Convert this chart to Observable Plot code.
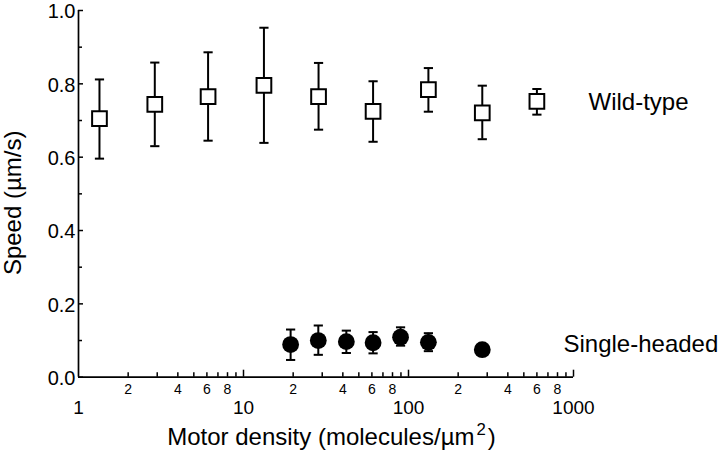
<!DOCTYPE html>
<html>
<head>
<meta charset="utf-8">
<script src="https://cdn.jsdelivr.net/npm/d3@7"></script>
<script src="https://cdn.jsdelivr.net/npm/@observablehq/plot@0.6"></script>
<style>
  html, body { margin: 0; padding: 0; background: #fff; }
  #wrap { position: relative; width: 720px; height: 455px; font-family: "Liberation Sans", Arial, Helvetica, sans-serif; }
  #xtitle { position: absolute; left: 331.5px; top: 424.5px; transform: translateX(-50%); font-size: 24px; line-height: 1; white-space: nowrap; color: #000; }
  #xtitle .sup { position: relative; top: -0.55em; font-size: 0.7em; margin-left: 2px; margin-right: 2px; }
</style>
</head>
<body>
<div id="wrap">
  <div id="chart"></div>
  <div id="xtitle">Motor density (molecules/µm<span class="sup">2</span>)</div>
</div>
<script>
// ---- data ----
const wtDensity = [1.34, 2.9, 6.1, 13.3, 28.5, 61, 132, 280, 600];
const wtSpeed   = [0.705, 0.744, 0.765, 0.796, 0.765, 0.725, 0.784, 0.721, 0.752];
const wtLow     = [0.596, 0.630, 0.645, 0.639, 0.675, 0.642, 0.724, 0.649, 0.716];
const wtHigh    = [0.812, 0.858, 0.886, 0.953, 0.857, 0.807, 0.843, 0.795, 0.786];

const shDensity = [19.3, 28.4, 42, 61, 89.5, 132, 280];
const shSpeed   = [0.089, 0.100, 0.097, 0.094, 0.109, 0.095, 0.075];
const shLow     = [0.047, 0.061, 0.066, 0.065, 0.086, 0.071, null];
const shHigh    = [0.130, 0.141, 0.127, 0.123, 0.136, 0.120, null];

const seriesNames = ["Wild-type", "Single-headed"];

const yMajorTicks = [0, 0.2, 0.4, 0.6, 0.8, 1.0];
const yMinorTicks = [0.1, 0.3, 0.5, 0.7, 0.9];
const xMajorTicks = [1, 10, 100, 1000];
const xMinorTicks = [2, 3, 4, 5, 6, 7, 8, 9, 20, 30, 40, 50, 60, 70, 80, 90, 200, 300, 400, 500, 600, 700, 800, 900];
const xMinorLabelTicks = [2, 4, 6, 8, 20, 40, 60, 80, 200, 400, 600, 800];

// ---- build tables ----
const wt = wtDensity.map((x, i) => ({x, y: wtSpeed[i], lo: wtLow[i], hi: wtHigh[i]}));
const sh = shDensity.map((x, i) => ({x, y: shSpeed[i], lo: shLow[i], hi: shHigh[i]}));
const shBars = sh.filter(d => d.lo != null);

const W = 720, H = 455;
const mL = 78, mR = 147, mT = 10, mB = 78.3;
const frameW = W - mL - mR, frameH = H - mT - mB;

const hbar = {draw(ctx, size) { const w = Math.sqrt(size / Math.PI); ctx.moveTo(-w, 0); ctx.lineTo(w, 0); }};

const font = "Liberation Sans, Arial, Helvetica, sans-serif";

const chart = Plot.plot({
  width: W, height: H,
  marginLeft: mL, marginRight: mR, marginTop: mT, marginBottom: mB,
  style: {fontFamily: font, color: "black", background: "white", overflow: "visible"},
  x: {type: "log", domain: [1, 1000], axis: null},
  y: {domain: [0, 1], axis: null},
  marks: [
    // axis lines
    Plot.ruleX([1], {x: d => d, y1: 0, y2: 1, strokeWidth: 1.7}),
    Plot.ruleY([0], {y: d => d, x1: 1, x2: 1000, strokeWidth: 1.7}),
    // inward y ticks
    Plot.tickY(yMajorTicks, {y: d => d, insetRight: frameW - 5, strokeWidth: 1.5}),
    Plot.tickY(yMinorTicks, {y: d => d, insetRight: frameW - 4, strokeWidth: 1.5}),
    // inward x ticks
    Plot.tickX(xMajorTicks.slice(1), {x: d => d, insetTop: frameH - 7, strokeWidth: 1.5}),
    Plot.tickX(xMinorTicks, {x: d => d, insetTop: frameH - 4.5, strokeWidth: 1.5}),
    // tick labels
    Plot.text(yMajorTicks, {y: d => d, text: d => d3.format(".1f")(d), frameAnchor: "left", dx: -3, dy: 1.5, textAnchor: "end", lineAnchor: "middle", fontSize: 20}),
    Plot.text(xMinorLabelTicks, {x: d => d, text: d => String(d).charAt(0), frameAnchor: "bottom", dy: 12.3, textAnchor: "middle", lineAnchor: "middle", fontSize: 14}),
    Plot.text(xMajorTicks, {x: d => d, text: d => String(d), frameAnchor: "bottom", dy: 30.5, textAnchor: "middle", lineAnchor: "middle", fontSize: 19}),
    // y title
    Plot.text(["Speed (µm/s)"], {text: d => d, frameAnchor: "left", rotate: -90, dx: -58, dy: 9, textAnchor: "middle", lineAnchor: "bottom", fontSize: 24}),
    // wild-type error bars + squares
    Plot.ruleX(wt, {x: "x", y1: "lo", y2: "hi", strokeWidth: 2}),
    Plot.dot(wt, {x: "x", y: "hi", symbol: hbar, r: 4.6, stroke: "black", strokeWidth: 2}),
    Plot.dot(wt, {x: "x", y: "lo", symbol: hbar, r: 4.6, stroke: "black", strokeWidth: 2}),
    Plot.dot(wt, {x: "x", y: "y", symbol: "square", r: 8.3, fill: "white", stroke: "black", strokeWidth: 2}),
    // single-headed error bars + circles
    Plot.ruleX(shBars, {x: "x", y1: "lo", y2: "hi", strokeWidth: 2}),
    Plot.dot(shBars, {x: "x", y: "hi", symbol: hbar, r: 4.6, stroke: "black", strokeWidth: 2}),
    Plot.dot(shBars, {x: "x", y: "lo", symbol: hbar, r: 4.6, stroke: "black", strokeWidth: 2}),
    Plot.dot(sh, {x: "x", y: "y", r: 8.4, fill: "black", stroke: "none"}),
    // series labels
    Plot.text([seriesNames[0]], {text: d => d, frameAnchor: "right", y: () => 0.75, dx: 15, textAnchor: "start", lineAnchor: "middle", fontSize: 24}),
    Plot.text([seriesNames[1]], {text: d => d, frameAnchor: "right", y: () => 0.091, dx: -10, textAnchor: "start", lineAnchor: "middle", fontSize: 24})
  ]
});
document.getElementById("chart").appendChild(chart);
</script>
</body>
</html>
